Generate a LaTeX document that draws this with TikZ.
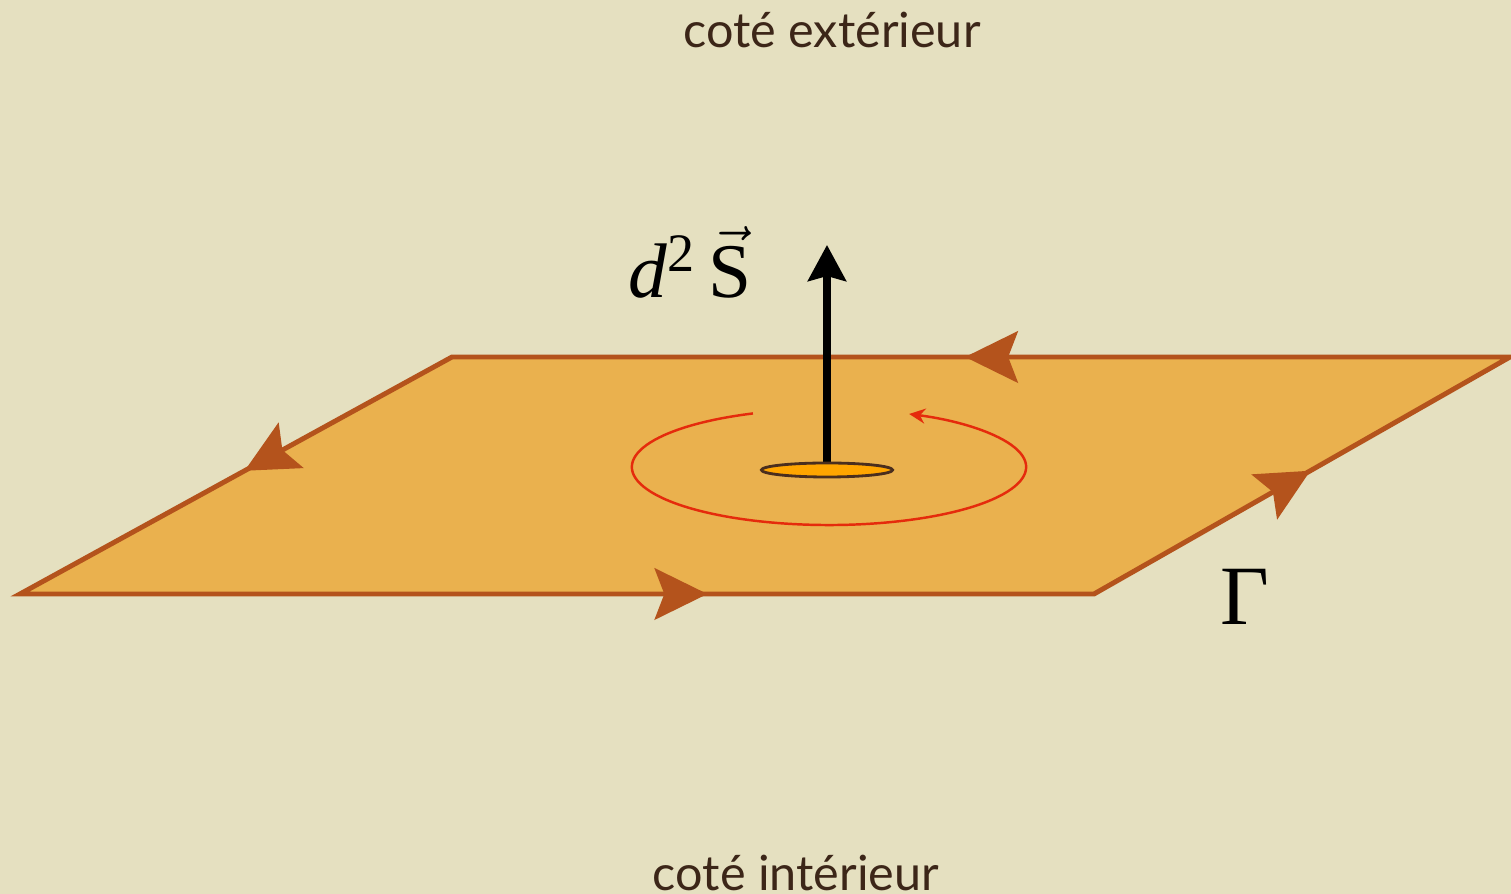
\documentclass[tikz,border=0pt]{standalone}
\usepackage{fontspec}
\setmainfont{Liberation Serif}
\newfontfamily\sidefont{Lato}
\usetikzlibrary{arrows.meta, positioning, calc, decorations.markings, shapes.geometric}
\definecolor{parchment}{HTML}{E5E0C0}
\definecolor{planeFill}{HTML}{EAB14E}
\definecolor{planeEdge}{HTML}{B4531C}
\definecolor{discFill}{HTML}{FFA500}
\definecolor{discEdge}{HTML}{4A2E1E}
\definecolor{circRed}{HTML}{E52B0C}
\definecolor{sideText}{HTML}{3C2618}

\begin{document}
\begin{tikzpicture}[
    x=0.01cm, y=0.01cm,
    plane/.style={fill=planeFill, draw=planeEdge, line width=1.4pt, line join=miter},
    edgemark/.style={postaction={decorate}, decoration={markings,
        mark=at position #1 with {\arrow[planeEdge]{Stealth[length=5.3mm, width=5.2mm, inset=1mm]}}}},
    normal/.style={-{Stealth[length=3.6mm, width=3.8mm, inset=0.5mm]}, line width=2pt, color=black},
    disc/.style={ellipse, draw=discEdge, fill=discFill, line width=0.8pt,
                 minimum width=1.31cm, minimum height=0.14cm, inner sep=0pt},
    circ/.style={draw=circRed, line width=0.7pt, -{Stealth[length=1.6mm, width=1.5mm]}},
    side/.style={font=\sidefont\fontsize{13.8}{16}\selectfont, text=sideText},
    symbol/.style={font=\fontsize{#1}{#1}\selectfont, text=black},
]

% ── Background ──
\fill[parchment] (0,0) rectangle (1511,894);
\useasboundingbox (0,0) rectangle (1511,894);

% ── Plane and its contour ──
\coordinate (A) at (20,300);
\coordinate (B) at (1094,300);
\coordinate (C) at (1510,537);
\coordinate (D) at (452,537);
\draw[plane] (A) -- (B) -- (C) -- (D) -- cycle;
\path[edgemark=0.64] (A) -- (B);
\path[edgemark=0.52] (B) -- (C);
\path[edgemark=0.515] (C) -- (D);
\path[edgemark=0.48] (D) -- (A);

% ── Circulation ──
\coordinate (centre) at (829,427);
\draw[circ] ($(centre)+(112.7:1.97cm and 0.58cm)$) arc[start angle=112.7, end angle=426, x radius=1.97cm, y radius=0.58cm];

% ── Surface element and normal ──
\coordinate (base) at (827,430);
\coordinate (tip) at (827,649);
\draw[normal] (base) -- (tip);
\node[disc] (disc) at (827,424) {};

% ── Labels ──
\node[symbol=22, anchor=base] (dS) at (690,596) {\textit{d}\textsuperscript{2}\,$\vec{\textrm{S}}$};
\node[symbol=24, anchor=base] (gamma) at (1245,269) {Γ};
\node[side, anchor=base] (outside) at (832,846) {coté extérieur};
\node[side, anchor=base] (inside) at (796,3) {coté intérieur};

\end{tikzpicture}
\end{document}
